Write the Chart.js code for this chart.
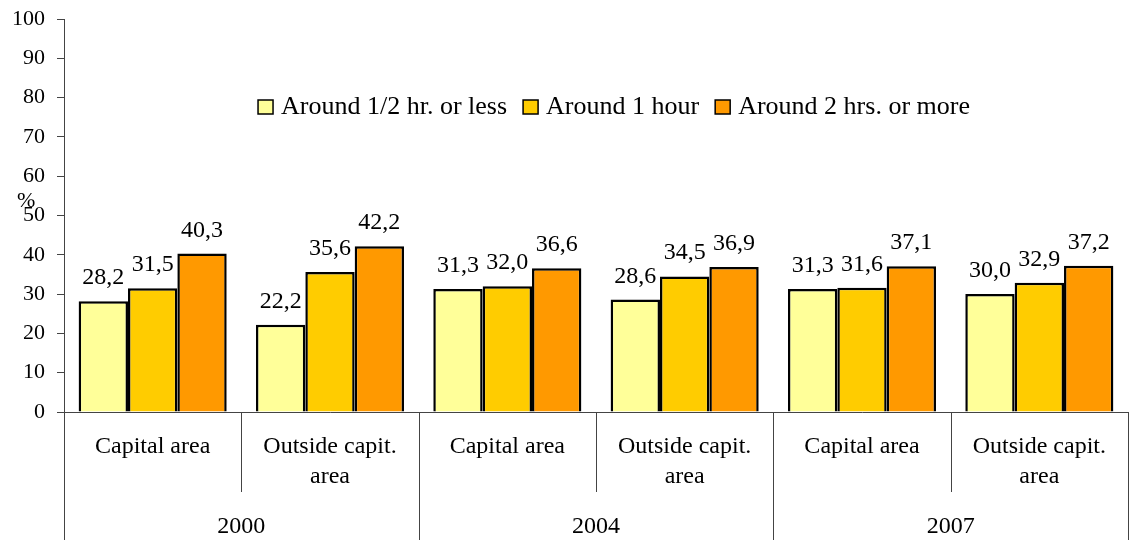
<!DOCTYPE html>
<html lang="en">
<head>
	<meta charset="UTF-8" />
	<title>Travel time</title>
	<script src="https://cdn.jsdelivr.net/npm/chart.js@4"></script>
	<style>
		html, body { margin: 0; padding: 0; background: #fff; }
		#wrap { width: 1132px; height: 540px; position: relative; }
	</style>
</head>
<body>
	<div id="wrap"><canvas id="chart"></canvas></div>
	<script>
		const years = ['2000', '2004', '2007'];
		const areas = ['Capital area', ['Outside capit.', 'area']];
		const categories = [areas[0], areas[1], areas[0], areas[1], areas[0], areas[1]];

		const seriesNames = ['Around 1/2 hr. or less', 'Around 1 hour', 'Around 2 hrs. or more'];
		const halfHour = [28.2, 22.2, 31.3, 28.6, 31.3, 30.0];
		const oneHour = [31.5, 35.6, 32.0, 34.5, 31.6, 32.9];
		const twoHours = [40.3, 42.2, 36.6, 36.9, 37.1, 37.2];
		const yTicks = [0, 10, 20, 30, 40, 50, 60, 70, 80, 90, 100];

		const colors = ['#FFFF99', '#FFCC00', '#FF9900'];
		const FONT = "'Liberation Serif', 'Times New Roman', serif";
		const LINE = '#444';

		const fmt = v => v.toFixed(1).replace('.', ',');

		const overlay = {
			id: 'overlay',
			afterDatasetsDraw(chart) {
				const ctx = chart.ctx;
				ctx.save();
				ctx.font = `24px ${FONT}`;
				ctx.fillStyle = '#000';
				ctx.textAlign = 'center';
				ctx.textBaseline = 'alphabetic';
				chart.data.datasets.forEach((ds, i) => {
					chart.getDatasetMeta(i).data.forEach((bar, j) => {
						ctx.fillText(fmt(ds.data[j]), bar.x, bar.y - 17);
					});
				});
				ctx.restore();
			},
			afterDraw(chart) {
				const ctx = chart.ctx;
				const x = chart.scales.x;
				const area = chart.chartArea;
				const catW = (area.right - area.left) / categories.length;

				ctx.save();
				// category / year dividers below the axis
				ctx.strokeStyle = LINE;
				ctx.lineWidth = 1;
				for (let i = 0; i <= categories.length; i++) {
					const px = Math.round(area.left + i * catW) + 0.5;
					const bottom = i % 2 === 0 ? chart.height : x.top + 80;
					ctx.beginPath();
					ctx.moveTo(px, x.top);
					ctx.lineTo(px, bottom);
					ctx.stroke();
				}

				// year labels
				ctx.fillStyle = '#000';
				ctx.font = `24px ${FONT}`;
				ctx.textAlign = 'center';
				ctx.textBaseline = 'alphabetic';
				years.forEach((y, k) => {
					const cx = area.left + (k * 2 + 1) * catW;
					ctx.fillText(y, cx, 533);
				});

				// y axis title
				ctx.font = `22px ${FONT}`;
				ctx.textAlign = 'left';
				ctx.fillText('%', 17, 207);

				// legend
				ctx.font = `26px ${FONT}`;
				const box = 15, gapText = 8, gapItem = 16;
				const widths = seriesNames.map(n => ctx.measureText(n).width);
				const total = widths.reduce((a, w) => a + box + gapText + w, 0) + gapItem * (seriesNames.length - 1);
				let lx = 614 - total / 2;
				const base = 114;
				seriesNames.forEach((n, i) => {
					ctx.fillStyle = colors[i];
					ctx.fillRect(lx, base - 14, box, 14);
					ctx.strokeStyle = '#000';
					ctx.lineWidth = 1.5;
					ctx.strokeRect(lx, base - 14, box, 14);
					ctx.fillStyle = '#000';
					ctx.fillText(n, lx + box + gapText, base);
					lx += box + gapText + widths[i] + gapItem;
				});
				ctx.restore();
			}
		};

		new Chart(document.getElementById('chart'), {
			type: 'bar',
			data: {
				labels: categories,
				datasets: [
					{ label: seriesNames[0], data: halfHour, backgroundColor: colors[0] },
					{ label: seriesNames[1], data: oneHour, backgroundColor: colors[1] },
					{ label: seriesNames[2], data: twoHours, backgroundColor: colors[2] },
				].map(d => ({ ...d, borderColor: '#000', borderWidth: 2.5, barPercentage: 1, categoryPercentage: 0.835 })),
			},
			options: {
				responsive: true,
				maintainAspectRatio: false,
				animation: false,
				layout: { padding: { top: 19, right: 4, left: 0, bottom: 0 } },
				plugins: {
					legend: { display: false },
					tooltip: { enabled: false },
				},
				scales: {
					x: {
						grid: { display: false, drawTicks: false },
						border: { display: true, color: LINE, width: 1 },
						ticks: {
							color: '#000',
							font: { family: FONT, size: 24, lineHeight: 1.25 },
							padding: 20,
							maxRotation: 0,
							autoSkip: false,
						},
						afterFit: s => { s.height = 128; },
					},
					y: {
						min: 0,
						max: 100,
						afterBuildTicks: s => { s.ticks = yTicks.map(v => ({ value: v })); },
						grid: { drawOnChartArea: false, drawTicks: true, tickLength: 7, color: LINE },
						border: { display: true, color: LINE, width: 1 },
						ticks: {
							color: '#000',
							font: { family: FONT, size: 22 },
							padding: 12,
						},
						afterFit: s => { s.width = 64; s.paddingTop = 0; s.paddingBottom = 0; },
					},
				},
			},
			plugins: [overlay],
		});
	</script>
</body>
</html>
